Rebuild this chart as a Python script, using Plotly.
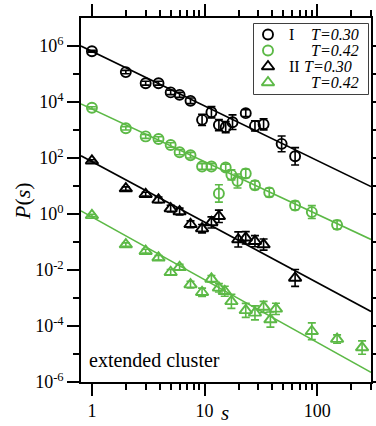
import numpy as np
import plotly.graph_objects as go

# ---------------- data ----------------
# Series I, T=0.30 (black circles)
s_I30 = [1, 2, 3, 3.9, 5, 6, 7.5, 9.5, 11.5, 13.4, 15.4, 17.7, 23.2, 28, 33.4, 48.3, 63.6]
P_I30 = [6.5e5, 1.17e5, 4.7e4, 4.7e4, 2.2e4, 1.8e4, 1.1e4, 2.3e3, 4.3e3, 1.5e3, 1.26e3,
         1.9e3, 4.0e3, 1.4e3, 1.6e3, 3.2e2, 1.15e2]
e_I30 = [0.03, 0.06, 0.07, 0.07, 0.08, 0.09, 0.1, 0.2, 0.2, 0.2, 0.2, 0.26, 0.12, 0.18, 0.2, 0.28, 0.31]

# Series I, T=0.42 (green circles)
s_I42 = [1, 2, 3, 3.9, 5, 6, 7.5, 9.5, 11.5, 13.4, 15.4, 17.3, 19.6, 23.2, 28, 37.5, 63.6, 89.5, 150]
P_I42 = [6.2e3, 1.15e3, 5.9e2, 4.8e2, 2.9e2, 1.6e2, 1.26e2, 50, 50, 5.4, 46, 25, 15, 28,
         10.7, 5.9, 2.0, 1.17, 0.41]
e_I42 = [0.04, 0.06, 0.07, 0.08, 0.08, 0.09, 0.1, 0.1, 0.1, 0.31, 0.12, 0.18, 0.25, 0.15,
         0.15, 0.15, 0.15, 0.23, 0.15]

# Series II, T=0.30 (black triangles)
s_II30 = [1, 2, 3, 3.9, 5, 6, 7.5, 9.5, 11.5, 13.4, 19.9, 23.2, 28, 33.4, 63.6]
P_II30 = [79, 8.1, 5.1, 3.2, 1.55, 1.23, 0.43, 0.30, 0.50, 0.83, 0.123, 0.141, 0.107, 0.081, 5.2e-3]
e_II30 = [0.04, 0.06, 0.07, 0.1, 0.12, 0.12, 0.12, 0.15, 0.2, 0.22, 0.27, 0.22, 0.2, 0.2, 0.3]

# Series II, T=0.42 (green triangles)
s_II42 = [1, 2, 3, 3.9, 5, 6, 7.5, 9.5, 11.5, 13.4, 15.1, 17.3, 23.2, 28, 33.4, 38.4, 43,
          89.5, 150, 250]
P_II42 = [0.89, 8.1e-2, 4.7e-2, 2.75e-2, 8.3e-3, 1.26e-2, 3.0e-3, 1.6e-3, 4.8e-3, 2.3e-3,
          1.74e-3, 7.6e-4, 3.6e-4, 2.95e-4, 4.8e-4, 1.7e-4, 4.1e-4, 6.5e-5, 3.4e-5, 1.7e-5]
e_II42 = [0.04, 0.06, 0.07, 0.08, 0.1, 0.1, 0.12, 0.15, 0.12, 0.15, 0.18, 0.25, 0.25, 0.25,
          0.2, 0.27, 0.2, 0.3, 0.15, 0.24]

# Power-law fits P = A * s^k
fit_A = [6.46e5, 5.6e3, 74, 0.78]
fit_k = [-1.95, -1.88, -2.16, -2.24]
fit_s = [0.8, 300]

# Legend labels
leg_group = ["I", "", "II", ""]
leg_temp = ["T=0.30", "T=0.42", "T=0.30", "T=0.42"]

x_tickvals = [1, 10, 100]
x_ticktext = ["1", "10", "100"]
x_minor = [2, 3, 4, 5, 6, 7, 8, 9, 20, 30, 40, 50, 60, 70, 80, 90, 200, 300]
y_exps = [-6, -4, -2, 0, 2, 4, 6]
y_minor_exps = [-5, -3, -1, 1, 3, 5]

# ---------------- styling ----------------
BLACK = "#000000"
GREEN = "#5cb946"
SERIF = "Liberation Serif"

W, H = 376, 426
ML, MR, MT, MB = 81, 5, 18, 44
PW, PH = W - ML - MR, H - MT - MB


def px2paper(px, py):
    return (px - ML) / PW, 1 - (py - MT) / PH


def errbars(P, e, color):
    P = np.asarray(P, float)
    e = np.asarray(e, float)
    return dict(type="data", symmetric=False,
                array=P * (10 ** e - 1), arrayminus=P * (1 - 10 ** (-e)),
                color=color, thickness=1.6, width=4)


fig = go.Figure()

# fit lines
fit_colors = [BLACK, GREEN, BLACK, GREEN]
for A, k, c in zip(fit_A, fit_k, fit_colors):
    fig.add_trace(go.Scatter(
        x=fit_s, y=[A * s ** k for s in fit_s], mode="lines",
        line=dict(color=c, width=1.6), showlegend=False, hoverinfo="skip"))

series = [
    (s_I30, P_I30, e_I30, BLACK, "circle-open", 10),
    (s_I42, P_I42, e_I42, GREEN, "circle-open", 10),
    (s_II30, P_II30, e_II30, BLACK, "triangle-up-open", 11),
    (s_II42, P_II42, e_II42, GREEN, "triangle-up-open", 11),
]
for sx, py_, e, c, sym, sz in series:
    fig.add_trace(go.Scatter(
        x=sx, y=py_, mode="markers",
        marker=dict(symbol=sym, size=sz, color=c, line=dict(width=1.9, color=c)),
        error_y=errbars(py_, e, c), showlegend=False))

axis_common = dict(
    type="log", showgrid=False, zeroline=False, showline=True, linecolor=BLACK,
    linewidth=1.5, mirror="ticks", ticks="outside", ticklen=12, tickwidth=1.5,
    tickcolor=BLACK, tickfont=dict(family=SERIF, size=18, color=BLACK),
)

xaxis_main = dict(
    **axis_common, range=[np.log10(0.8), np.log10(300)],
    tickvals=x_tickvals, ticktext=x_ticktext,
    minor=dict(tickvals=x_minor, ticks="outside", ticklen=6, tickwidth=1.5,
               tickcolor=BLACK, showgrid=False),
)
yaxis_main = dict(
    **axis_common, range=[-6, 7],
    tickvals=[10.0 ** p for p in y_exps],
    ticktext=["10<sup>%d</sup>" % p for p in y_exps],
    minor=dict(tickvals=[10.0 ** p for p in y_minor_exps], ticks="outside", ticklen=6,
               tickwidth=1.5, tickcolor=BLACK, showgrid=False),
)

annotations = []
# axis titles
x, y = px2paper(22, 201)
annotations.append(dict(text="<i>P</i>(<i>s</i>)", x=x, y=y, xref="paper", yref="paper",
                        textangle=-90, showarrow=False, xanchor="center", yanchor="middle",
                        font=dict(family=SERIF, size=22, color=BLACK)))
x, y = px2paper(224.5, 413.5)
annotations.append(dict(text="<i>s</i>", x=x, y=y, xref="paper", yref="paper",
                        showarrow=False, xanchor="center", yanchor="middle",
                        font=dict(family=SERIF, size=21, color=BLACK)))
# inner label
x, y = px2paper(87, 360)
annotations.append(dict(text="extended cluster", x=x, y=y, xref="paper", yref="paper",
                        showarrow=False, xanchor="left", yanchor="middle",
                        font=dict(family=SERIF, size=20, color=BLACK)))

# legend box
LX0, LX1, LY0, LY1 = 254, 368, 24, 94
x0, y1 = px2paper(LX0, LY0)
x1, y0 = px2paper(LX1, LY1)
shapes = [dict(type="rect", xref="paper", yref="paper", x0=x0, x1=x1, y0=y0, y1=y1,
               line=dict(color=BLACK, width=1.5), fillcolor="white", layer="below")]

# legend keys drawn on an overlay axis pair covering the legend box:
# x in pixels from the box's left edge, y = row index (16 px per row)
ROW0, ROWH, KEYX = 34.5, 16.0, 14
xaxis_key = dict(domain=[x0, x1], range=[0, LX1 - LX0], anchor="y2", visible=False,
                 fixedrange=True)
yaxis_key = dict(domain=[y0, y1], range=[(LY1 - ROW0) / ROWH, (LY0 - ROW0) / ROWH],
                 anchor="x2", visible=False, fixedrange=True)

rows = list(range(len(leg_temp)))
key_sym = ["circle-open", "circle-open", "triangle-up-open", "triangle-up-open"]
key_size = [10, 10, 11, 11]
key_col = [BLACK, GREEN, BLACK, GREEN]
for i in rows:
    fig.add_trace(go.Scatter(
        x=[KEYX], y=[i], xaxis="x2", yaxis="y2", mode="markers",
        marker=dict(symbol=key_sym[i], size=key_size[i], color=key_col[i],
                    line=dict(width=1.9, color=key_col[i])),
        showlegend=False, hoverinfo="skip"))
    ry = ROW0 + ROWH * i
    if leg_group[i]:
        x, y = px2paper(287, ry)
        annotations.append(dict(text=leg_group[i], x=x, y=y, xref="paper", yref="paper",
                                showarrow=False, xanchor="left", yanchor="middle",
                                font=dict(family=SERIF, size=16, color=BLACK)))
    x, y = px2paper(302 if leg_group[i] == "II" else 309, ry)
    annotations.append(dict(text="<i>%s</i>" % leg_temp[i], x=x, y=y, xref="paper", yref="paper",
                            showarrow=False, xanchor="left", yanchor="middle",
                            font=dict(family=SERIF, size=16, color=BLACK)))

fig.update_layout(
    width=W, height=H, margin=dict(l=ML, r=MR, t=MT, b=MB, autoexpand=False),
    paper_bgcolor="white", plot_bgcolor="white", showlegend=False,
    xaxis=xaxis_main, yaxis=yaxis_main, xaxis2=xaxis_key, yaxis2=yaxis_key,
    annotations=annotations, shapes=shapes,
    font=dict(family=SERIF, color=BLACK),
)

fig.write_html("out.html", config={"displayModeBar": False},
               post_script="document.body.style.margin='0';document.body.style.overflow='hidden';")
